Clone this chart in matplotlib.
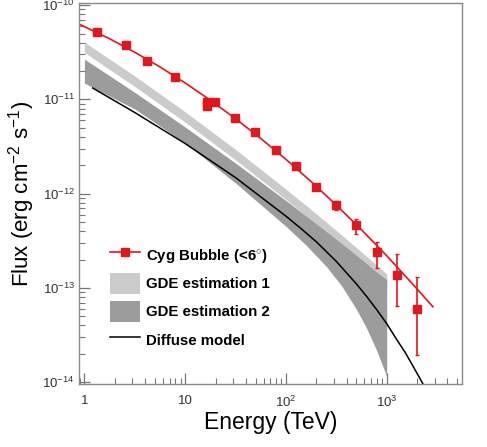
import numpy as np
import matplotlib
matplotlib.use('Agg')
import matplotlib.pyplot as plt
from matplotlib.lines import Line2D
from matplotlib.patches import Patch

plt.rcParams['font.family'] = ['Liberation Sans', 'DejaVu Sans']
plt.rcParams['mathtext.fontset'] = 'custom'
plt.rcParams['mathtext.rm'] = 'Liberation Sans'
plt.rcParams['mathtext.it'] = 'Liberation Sans:italic'
plt.rcParams['mathtext.bf'] = 'Liberation Sans:bold'

# Cyg Bubble data points (TeV, erg cm^-2 s^-1)
e_pts = [1.34, 2.57, 4.15, 7.92, 16.3, 16.5, 19.6, 31.2, 49.3, 79.2, 125, 198, 314, 497, 797, 1260, 2018]
f_pts = [5.13e-11, 3.77e-11, 2.55e-11, 1.71e-11, 9.35e-12, 8.6e-12, 9.3e-12, 6.29e-12, 4.53e-12,
         2.90e-12, 1.96e-12, 1.18e-12, 7.57e-13, 4.64e-13, 2.42e-13, 1.37e-13, 5.93e-14]
f_lo = [5.13e-11, 3.77e-11, 2.55e-11, 1.71e-11, 9.35e-12, 8.6e-12, 9.3e-12, 6.29e-12, 4.53e-12,
        2.90e-12, 1.96e-12, 1.12e-12, 6.70e-13, 3.70e-13, 1.61e-13, 6.43e-14, 1.94e-14]
f_hi = [5.13e-11, 3.77e-11, 2.55e-11, 1.71e-11, 9.35e-12, 8.6e-12, 9.3e-12, 6.29e-12, 4.53e-12,
        2.90e-12, 1.96e-12, 1.24e-12, 8.41e-13, 5.38e-13, 3.09e-13, 2.29e-13, 1.31e-13]

# fitted spectrum (red curve)
e_fit = [0.88, 1.778, 3.162, 5.623, 10, 17.78, 31.62, 56.23, 100, 177.8, 316.2, 562.3, 1000, 1778, 2870]
f_fit = [6.31e-11, 4.40e-11, 3.16e-11, 2.21e-11, 1.494e-11, 9.80e-12, 6.24e-12, 3.85e-12, 2.31e-12,
         1.34e-12, 7.55e-13, 4.13e-13, 2.19e-13, 1.12e-13, 6.31e-14]

# GDE bands
e_band = [1, 3.162, 10, 31.62, 100, 158.5, 251.2, 354.8, 501.2, 631, 794.3, 1000]
gde1_hi = [4.055e-11, 1.77e-11, 7.38e-12, 2.94e-12, 1.117e-12, 7.49e-13, 4.98e-13, 3.655e-13,
           2.67e-13, 2.16e-13, 1.744e-13, 1.406e-13]
gde1_lo = [3.15e-11, 1.37e-11, 5.73e-12, 2.28e-12, 8.67e-13, 5.81e-13, 3.86e-13, 2.84e-13,
           2.07e-13, 1.68e-13, 1.35e-13, 1.09e-13]
gde2_hi = [2.673e-11, 1.187e-11, 5.09e-12, 2.11e-12, 8.45e-13, 5.80e-13, 3.96e-13, 2.97e-13,
           2.21e-13, 1.81e-13, 1.47e-13, 1.22e-13]
gde2_lo = [1.489e-11, 7.91e-12, 3.45e-12, 1.297e-12, 4.50e-13, 2.84e-13, 1.69e-13, 1.06e-13,
           5.91e-14, 3.73e-14, 2.17e-14, 1.15e-14]

# diffuse model (black line)
e_dm = [1.21, 3.16, 10, 31.6, 100, 141, 200, 316, 398, 501, 631, 794, 1000, 1259, 1514, 1778, 2291]
f_dm = [1.32e-11, 7.26e-12, 3.40e-12, 1.48e-12, 5.77e-13, 4.26e-13, 3.09e-13, 1.91e-13, 1.45e-13,
        1.10e-13, 8.13e-14, 5.89e-14, 4.17e-14, 2.82e-14, 2.09e-14, 1.55e-14, 9.55e-15]

x_ticks = [1, 10, 100, 1000]
x_tick_labels = ['1', '10', '$10^{2}$', '$10^{3}$']
y_ticks = [1e-14, 1e-13, 1e-12, 1e-11, 1e-10]
y_tick_labels = ['$10^{-14}$', '$10^{-13}$', '$10^{-12}$', '$10^{-11}$', '$10^{-10}$']

red = '#e3161c'
light = '#cbcbcb'
dark = '#9c9c9c'

fig = plt.figure(figsize=(4.87, 4.47), dpi=100)
ax = fig.add_axes([0.162, 0.141, 0.787, 0.852])

ax.fill_between(e_band, gde1_lo, gde1_hi, color=light, lw=0)
ax.fill_between(e_band, gde2_lo, gde2_hi, color=dark, lw=0)
ax.plot(e_dm, f_dm, color='black', lw=1.1)
ax.plot(e_fit, f_fit, color=red, lw=1.2)

f_pts = np.array(f_pts)
yerr = [f_pts - np.array(f_lo), np.array(f_hi) - f_pts]
ax.errorbar(e_pts, f_pts, yerr=yerr, fmt='s', color=red, ms=5.5, elinewidth=1.2,
            capsize=1.5, capthick=1.0)

ax.set_xscale('log')
ax.set_yscale('log')
ax.set_xlim(0.882, 5600)
ax.set_ylim(9.57e-15, 1.05e-10)

ax.set_xticks(x_ticks)
ax.set_xticklabels(x_tick_labels)
ax.set_yticks(y_ticks)
ax.set_yticklabels(y_tick_labels)

for s in ax.spines.values():
    s.set_color('#8a8a8a')
    s.set_linewidth(1.0)
ax.tick_params(which='both', direction='in', color='#777777', labelcolor='#333333',
               top=False, right=False)
ax.tick_params(which='major', length=8, width=0.9, labelsize=9.5)
ax.tick_params(which='minor', length=4, width=0.8)
ax.tick_params(axis='x', which='major', pad=8)
ax.tick_params(axis='y', which='major', pad=3)

ax.set_xlabel('Energy (TeV)', fontsize=16.5)
ax.set_ylabel('Flux (erg cm$^{-2}$ s$^{-1}$)', fontsize=16, labelpad=4)
ax.xaxis.set_label_coords(0.5, -0.071)

handles = [
    Line2D([], [], color=red, marker='s', ms=5.5, lw=1.2),
    Patch(facecolor=light, edgecolor='none'),
    Patch(facecolor=dark, edgecolor='none'),
    Line2D([], [], color='black', lw=1.1),
]
labels = ['Cyg Bubble (<6$^{\\circ}$)', 'GDE estimation 1', 'GDE estimation 2', 'Diffuse model']
ax.legend(handles, labels, loc='upper left', bbox_to_anchor=(0.081, 0.367), frameon=False,
          prop={'weight': 'bold', 'size': 10.8}, handlelength=2.0, handleheight=1.78,
          labelspacing=0.49, handletextpad=0.4, borderpad=0, borderaxespad=0, numpoints=1)

fig.savefig('out.png', dpi=100)
